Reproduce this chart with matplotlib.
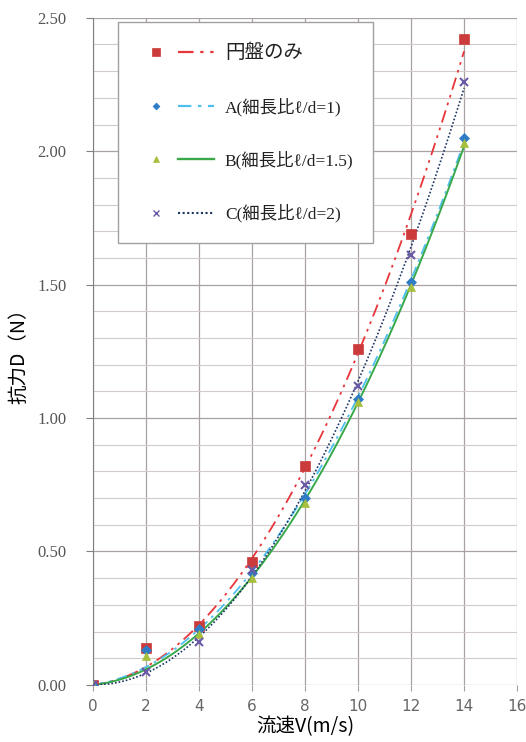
import numpy as np
import matplotlib
matplotlib.use("Agg")
import matplotlib.pyplot as plt
from matplotlib.lines import Line2D
from matplotlib.legend_handler import HandlerTuple
from matplotlib.ticker import MultipleLocator

plt.rcParams['font.family'] = ['Noto Sans CJK JP', 'DejaVu Sans']

# 流速 [m/s]
v = np.array([0, 2, 4, 6, 8, 10, 12, 14])
# 抗力 [N]
d_disk = np.array([0.0, 0.14, 0.22, 0.46, 0.82, 1.26, 1.69, 2.42])
d_a = np.array([0.0, 0.13, 0.21, 0.42, 0.70, 1.07, 1.51, 2.05])
d_b = np.array([0.0, 0.11, 0.19, 0.40, 0.68, 1.06, 1.49, 2.03])
d_c = np.array([0.0, 0.05, 0.16, 0.43, 0.75, 1.12, 1.61, 2.26])

labels = ["円盤のみ", "A(細長比ℓ/d=1)", "B(細長比ℓ/d=1.5)", "C(細長比ℓ/d=2)"]
series = [d_disk, d_a, d_b, d_c]

markers = ['s', 'D', '^', 'x']
msizes = [7, 5, 6, 6]
mcolors = ['#cc3b3b', '#2f7cc6', '#a6bf3c', '#6a5aa6']
lcolors = ['#e8353a', '#4fc0ee', '#38a84a', '#1d3566']
lstyles = [(0, (7, 3, 1.5, 3, 1.5, 3)), (0, (6, 3, 1.5, 3)), '-', (0, (1, 1.2))]
lwidths = [1.3, 1.3, 1.4, 1.2]

fig = plt.figure(figsize=(5.26, 7.42), dpi=100)
ax = fig.add_axes([0.177, 0.077, 0.806, 0.899])

xs = np.linspace(0, 14, 200)
handles = []
for y, mk, ms, mc, lc, ls, lw in zip(series, markers, msizes, mcolors, lcolors, lstyles, lwidths):
    # 原点を通る2次の近似曲線 y = a*v^2 + b*v
    A = np.column_stack([v ** 2, v])
    a, b = np.linalg.lstsq(A, y, rcond=None)[0]
    ax.plot(xs, a * xs ** 2 + b * xs, color=lc, linestyle=ls, linewidth=lw, zorder=3)
    ax.plot(v, y, linestyle='none', marker=mk, markersize=ms, color=mc,
            markeredgewidth=1.5 if mk == 'x' else 0.5, zorder=4)
    h_mark = Line2D([], [], linestyle='none', marker=mk, markersize=ms - 1.5, color=mc,
                    markeredgewidth=1.0 if mk == 'x' else 0.5)
    h_line = Line2D([], [], color=lc, linestyle=ls, linewidth=lw + 0.3)
    handles.append((h_mark, h_line))

ax.set_xlim(0, 16)
ax.set_ylim(0, 2.5)
ax.xaxis.set_major_locator(MultipleLocator(2))
ax.yaxis.set_major_locator(MultipleLocator(0.5))
ax.yaxis.set_minor_locator(MultipleLocator(0.1))
ax.grid(which='major', color='#aaa2a2', linewidth=0.9)
ax.grid(which='minor', axis='y', color='#d2caca', linewidth=0.8)
ax.set_axisbelow(True)

for s in ['top', 'right', 'bottom']:
    ax.spines[s].set_visible(False)
ax.spines['left'].set_color('#808080')

ax.tick_params(axis='y', which='major', length=5, color='#808080', pad=14)
ax.tick_params(axis='y', which='minor', length=0)
ax.tick_params(axis='x', length=4, color='#a0a0a0', pad=6)
ax.set_yticklabels([f"{t:.2f}" for t in ax.get_yticks()],
                   family='Liberation Serif', fontsize=12, color='#555555')
ax.set_xticklabels([f"{int(t)}" for t in ax.get_xticks()],
                   family='DejaVu Sans', fontsize=11, color='#666666')

ax.set_xlabel("流速V(m/s)", fontsize=14, labelpad=2)
ax.set_ylabel("抗力D（N）", fontsize=14, labelpad=6)

leg = ax.legend(handles, labels, handler_map={tuple: HandlerTuple(ndivide=2, pad=0.2)},
                loc='upper left', bbox_to_anchor=(0.059, 0.994), borderaxespad=0,
                handlelength=4.4, labelspacing=2.0, borderpad=1.15, handletextpad=0.6,
                fontsize=12.5, fancybox=False, framealpha=1, edgecolor='#a0a0a0')
leg.get_frame().set_linewidth(1.0)
leg.get_texts()[0].set_fontsize(14)
for t in leg.get_texts():
    t.set_color('#222222')
    if t.get_text() != labels[0]:
        t.set_family(['Liberation Serif', 'Noto Sans CJK JP'])

fig.savefig("out.png", dpi=100, facecolor='white')
